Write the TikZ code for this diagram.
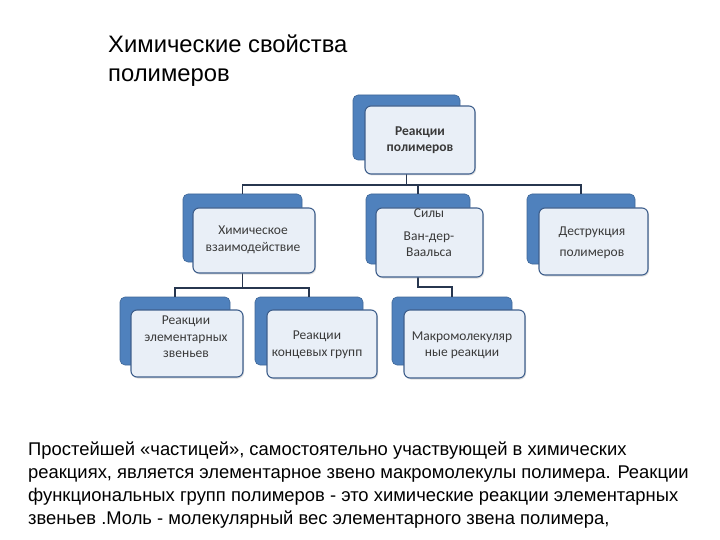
\documentclass[tikz,border=0pt]{standalone}
\usepackage{fontspec}
\setmainfont{Liberation Sans}
\newfontfamily\boxfont{Carlito}
\definecolor{backblue}{HTML}{4F81BD}
\definecolor{frontfill}{HTML}{E9EFF7}
\definecolor{frontdraw}{HTML}{3F5F8C}
\definecolor{linecol}{HTML}{27364F}
\definecolor{boxtext}{HTML}{3A3A3A}
\usetikzlibrary{shadows}
\tikzset{
  backbox/.style={draw=backblue!80!black, line width=0.6pt, fill=backblue, rounded corners=5pt, inner sep=0pt},
  frontbox/.style={draw=frontdraw, line width=1.1pt, fill=frontfill, rounded corners=6pt, inner sep=0pt,
    drop shadow={shadow xshift=1pt, shadow yshift=-1.5pt, opacity=0.25}},
  boxlabel/.style={font=\boxfont\fontsize{13.5}{16.5}\selectfont, text=boxtext, align=center, inner sep=0pt},
  conn/.style={draw=linecol, line width=1.4pt},
}
\begin{document}
\begin{tikzpicture}[x=1pt,y=-1pt]
\useasboundingbox (0,0) rectangle (720,540);
% back boxes
\node[backbox, minimum width=107pt, minimum height=65pt] (topb) at (406.5,127.5) {};
\node[backbox, minimum width=119pt, minimum height=68pt] (ab) at (242.5,228) {};
\node[backbox, minimum width=104pt, minimum height=70pt] (bb) at (418,229) {};
\node[backbox, minimum width=108pt, minimum height=70pt] (cb) at (581,229) {};
\node[backbox, minimum width=110pt, minimum height=68pt] (db) at (175,331) {};
\node[backbox, minimum width=108pt, minimum height=68pt] (eb) at (309,331) {};
\node[backbox, minimum width=120pt, minimum height=68pt] (fb) at (452,331) {};
% bus coordinates
\coordinate (bus1) at (406.5,185);
\coordinate (bus2) at (242.5,288);
\coordinate (bus3) at (418,287);
% connectors
\draw[conn] (topb.south) -- (bus1);
\draw[conn] (ab.north) -- (ab.north |- bus1) -- (cb.north |- bus1) -- (cb.north);
\draw[conn] (bb.north |- bus1) -- (bb.north);
\draw[conn] (ab.south) -- (bus2);
\draw[conn] (db.north) -- (db.north |- bus2) -- (eb.north |- bus2) -- (eb.north);
\draw[conn] (bb.south) -- (bus3) -- (fb.north |- bus3) -- (fb.north);
% front boxes
\node[frontbox, minimum width=110pt, minimum height=68pt] (topf) at (420,140) {};
\node[frontbox, minimum width=122pt, minimum height=65pt] (af) at (254,240.5) {};
\node[frontbox, minimum width=107pt, minimum height=69pt] (bf) at (429.5,242.5) {};
\node[frontbox, minimum width=109pt, minimum height=67pt] (cf) at (593.5,241.5) {};
\node[frontbox, minimum width=112pt, minimum height=67pt] (df) at (187,343.5) {};
\node[frontbox, minimum width=110pt, minimum height=68pt] (ef) at (322,344) {};
\node[frontbox, minimum width=121pt, minimum height=68pt] (ff) at (464.5,344) {};
% labels
\node[boxlabel, font=\boxfont\bfseries\fontsize{13.5}{16.5}\selectfont] (topt) at (420,140) {Реакции\\полимеров};
\node[boxlabel] (at) at (253,240) {Химическое\\взаимодействие};
\node[boxlabel] (bt) at (429,233) {Силы\\[6pt]Ван-дер-\\Ваальса};
\node[boxlabel] (ct) at (592,243) {Деструкция\\[5pt]полимеров};
\node[boxlabel] (dt) at (186,337) {Реакции\\элементарных\\звеньев};
\node[boxlabel] (et) at (317,345) {Реакции\\концевых групп};
\node[boxlabel] (ft) at (462,345.5) {Макромолекуляр\\ные реакции};
% title
\node[anchor=north west, align=left, inner sep=0pt, font=\fontsize{23.8}{28.5}\selectfont] (title) at (108,35) {Химические свойства\\полимеров};
% bottom text
\node[anchor=north west, align=left, inner sep=0pt, font=\fontsize{18.4}{22.8}\selectfont] (body) at (28,442) {Простейшей «частицей», самостоятельно участвующей в химических\\реакциях, является элементарное звено макромолекулы полимера. Реакции\\функциональных групп полимеров - это химические реакции элементарных\\звеньев .Моль - молекулярный вес элементарного звена полимера,};
\end{tikzpicture}
\end{document}
